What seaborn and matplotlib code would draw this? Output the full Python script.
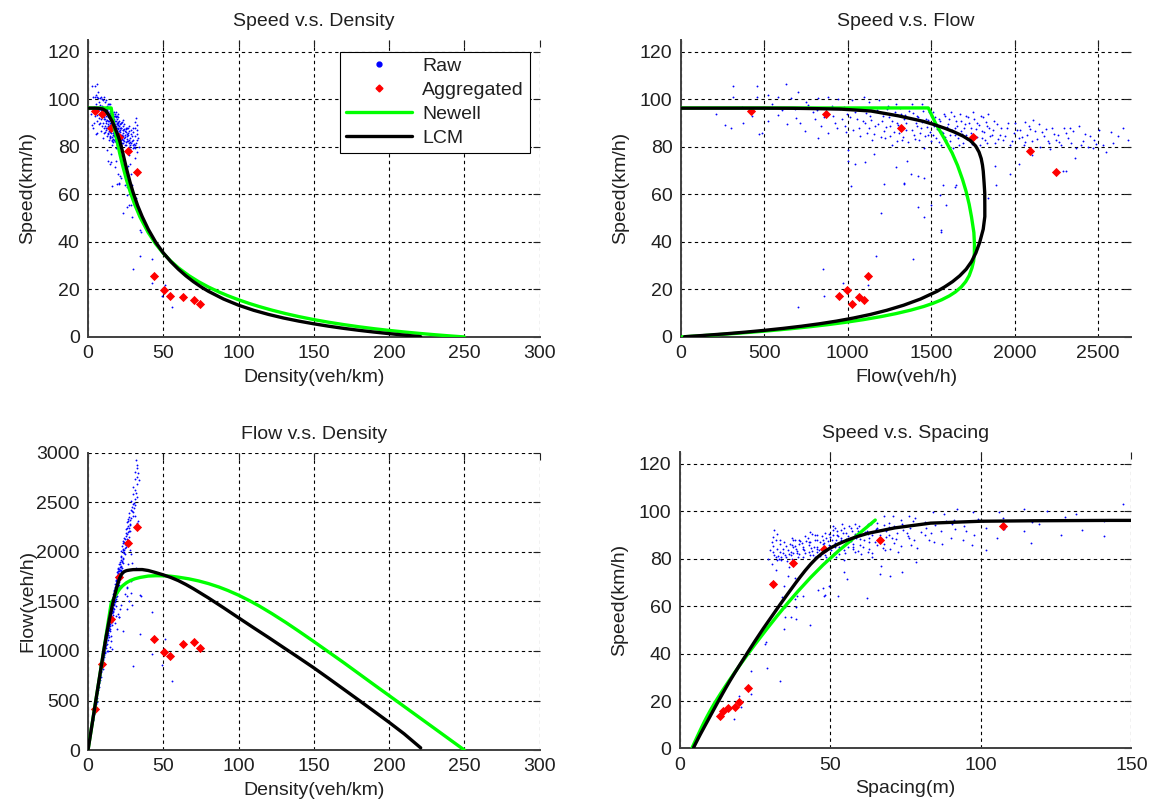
"""
Fundamental diagram comparison: raw detector data, aggregated points,
Newell and LCM model curves, shown in four planes.
"""

import numpy as np
import matplotlib
matplotlib.use("Agg")
import matplotlib.pyplot as plt
from matplotlib.lines import Line2D
import seaborn as sns

# ---- raw observations (flow veh/h, speed km/h) ----
raw_flow = [
    212, 263, 301, 311, 311, 368, 372, 428, 455, 459, 469, 489,
    523, 523, 580, 580, 632, 636, 661, 701, 681, 711, 741, 762, 792, 802, 822, 822,
    842, 883, 883, 913, 923, 943, 953, 964, 984, 994, 1000, 1004,
    1024, 1044, 1054, 1065, 1085, 1095, 1105, 1115, 1125, 1135, 1145, 1155, 1166,
    1186, 1196, 1206, 1216, 1226, 1236, 1246, 1256, 1267, 1287, 1297, 1307, 1317,
    1327, 1337, 1347, 1357, 1368, 1378, 1388, 1398, 1408, 1418, 1428, 1438, 1448,
    1458, 1469, 1479, 1489, 1499,
    1509, 1519, 1529, 1549, 1559, 1570, 1580, 1590, 1600, 1610, 1620, 1630, 1640,
    1650, 1660, 1671, 1681, 1691, 1701, 1711, 1721, 1731, 1741, 1751, 1761, 1772,
    1792, 1802, 1812, 1822, 1832, 1842, 1852, 1873, 1883, 1893, 1913, 1933, 1953,
    1974, 1994, 2004,
    2024, 2034, 2054, 2075, 2085, 2105, 2125, 2145, 2155, 2176, 2206, 2226, 2246,
    2277, 2307, 2337, 2367, 2388, 2408, 2438, 2479, 2509,
    2060, 2190, 2260, 2330, 2420, 2470, 2215, 2110,
    2529, 2549, 2620, 2681, 2721, 2580, 2650, 2760, 2795, 2850, 2930, 2590,
    1044, 1105, 1287, 1570, 1650, 2024, 1974, 2105, 2307, 1339, 1420, 1500, 1460,
    1560, 1389, 1640, 1711, 1841, 1881, 1550, 1590, 1460, 850, 1170, 700, 860,
    1120, 970, 1200, 1020, 1220, 1340, 1420, 2290, 2360, 1890, 1556,
    1012, 1031, 1058, 1072, 1090, 1112, 1128, 1141, 1159, 1173,
    1182, 1201, 1213, 1229, 1241, 1252, 1263, 1275, 1284, 1293,
    1304, 1313, 1322, 1333, 1344, 1352, 1364, 1373, 1383, 1393,
    1403, 1413, 1423, 1433, 1443, 1453, 1463, 1473, 1483, 1493,
    1504, 1514, 1524, 1534, 1544, 1554, 1564, 1575, 1585, 1595,
    1605, 1615, 1625, 1635, 1645, 1655, 1665, 1676, 1686, 1696,
    1706, 1716, 1726, 1736, 1746, 1756, 1767, 1777, 1787, 1797,
    1807, 1817, 1827, 1837, 1847, 1862, 1878, 1898, 1918, 1943, 1963, 1984,
    2014, 2044, 2065, 2095, 2135, 2165, 2198, 2236, 2268, 2297, 2318, 2350, 2398, 2455, 2490,
    545, 605, 690, 752, 815, 860, 905, 935, 975, 990,
    2810, 2880, 2740,
]
raw_speed = [
    93.6, 89.1, 88.0, 105.4, 101.0, 96.7, 90.1, 93.0, 105.4, 101.0, 85.4, 85.8,
    101.7, 90.9, 101.0, 93.3, 106.5, 89.7, 100.3, 103.2, 95.9, 90.1, 86.5, 97.4, 94.5, 91.6, 100.3, 83.6,
    88.7, 101.0, 85.8, 93.0, 90.1, 99.9, 95.9, 91.6, 88.7, 93.8, 78.6, 74.2,
    99.6, 94.5, 91.6, 88.0, 95.9, 101.0, 90.1, 85.8, 98.8, 93.0, 82.9, 77.1, 88.7,
    99.6, 94.5, 90.9, 86.5, 83.6, 95.9, 92.3, 88.7, 80.7, 98.1, 90.1, 85.8, 93.8,
    82.9, 91.6, 87.2, 74.2, 95.2, 68.4, 98.1, 85.1, 90.1, 93.0, 82.9, 88.0, 98.1,
    79.3, 91.6, 85.1, 94.5, 82.2,
    94.5, 88.7, 83.6, 91.6, 80.7, 85.8, 93.0, 82.9, 89.4, 85.1, 94.5, 79.3, 88.0,
    90.9, 83.6, 93.8, 86.5, 81.4, 89.4, 85.1, 92.3, 82.2, 88.0, 94.5, 84.3, 90.1,
    80.7, 86.5, 92.3, 82.9, 88.7, 93.8, 84.3, 87.2, 81.4, 89.4, 85.1, 82.9, 88.0,
    80.7, 85.8, 90.1,
    83.6, 87.2, 80.7, 85.1, 88.7, 82.2, 86.5, 89.4, 80.0, 84.3, 81.4, 88.0, 82.9,
    80.7, 85.8, 81.4, 79.3, 88.7, 82.2, 80.0, 82.9, 87.2,
    90.5, 87.5, 84.8, 87.9, 85.5, 79.5, 78.9, 91.4,
    80.7, 77.8, 84.3, 82.9, 80.0, 86.0, 88.0, 85.5, 83.7, 87.0, 92.0, 81.5,
    72.8, 73.5, 71.3, 64.1, 64.1, 72.8, 68.4, 76.4, 69.9, 64.6, 54.7, 55.4, 50.5,
    44.8, 32.8, 63.0, 59.7, 58.3, 71.7, 59.7, 55.4, 66.8, 28.4, 34.1, 12.5, 17.4,
    22.0, 22.8, 52.0, 63.3, 64.3, 64.3, 67.6, 69.7, 75.4, 64.0, 44.0,
    92.4, 87.1, 96.2, 84.6, 90.8, 94.1, 87.9, 91.3, 85.2, 95.4,
    89.6, 83.9, 92.8, 88.2, 97.0, 84.7, 91.0, 86.3, 94.7, 82.6,
    89.3, 96.4, 87.6, 84.0, 93.2, 89.8, 81.9, 91.9, 87.0, 94.3,
    83.2, 88.9, 92.7, 85.6, 90.4, 95.0, 84.3, 88.1, 91.2, 86.0,
    89.9, 84.8, 92.6, 87.4, 81.8, 90.6, 86.1, 93.9, 84.0, 88.3,
    91.8, 82.5, 86.9, 92.9, 84.9, 88.6, 80.9, 90.7, 85.4, 87.9,
    93.1, 83.1, 89.9, 85.9, 81.2, 91.5, 87.3, 84.1, 89.0, 92.8,
    83.7, 86.2, 90.5, 81.6, 88.0, 85.0, 90.9, 83.2, 87.7, 84.5, 89.8, 82.4,
    86.9, 84.0, 81.9, 87.6, 83.3, 86.0, 82.6, 85.3, 82.0, 87.9, 83.5, 86.4, 80.6, 84.3, 81.0,
    97.8, 95.3, 92.2, 98.9, 95.4, 92.6, 97.1, 88.0, 96.6, 86.3,
    90.5, 89.3, 87.8,
]

# ---- aggregated points (density veh/km, speed km/h) ----
agg_density = [4.4, 9.3, 15.0, 20.8, 26.7, 32.4, 43.8, 50.4, 54.6, 62.9, 70.2, 74.5]
agg_speed = [95.0, 93.7, 88.0, 84.2, 78.3, 69.4, 25.6, 19.7, 17.4, 17.0, 15.6, 13.8]

# ---- Newell model curve (density, speed) ----
newell_density = [0, 15.4, 17, 19, 21, 23, 25.5, 28, 31, 34.6, 40, 45, 50, 55, 60, 67,
                  73.5, 80, 87, 93, 100, 107, 113.6, 122, 131.4, 140, 150, 160, 170,
                  180, 190, 200, 210, 220, 230, 240, 250]
newell_speed = [96.3, 96.3, 89.8, 83.2, 77.4, 72.1, 66.2, 61.07, 55.74, 50.35, 43.9, 39.1,
                35.18, 31.9, 29.08, 25.79, 23.22, 21.0, 18.91, 17.31, 15.63, 14.11, 12.81,
                11.3, 9.8, 8.57, 7.3, 6.175, 5.18, 4.278, 3.47, 2.75, 2.095, 1.5, 0.957,
                0.458, 0.0]

# ---- LCM model curve (density, speed) ----
lcm_density = [0, 5, 7, 8.5, 10, 12, 14, 16, 17, 18, 19, 20, 21, 22, 23, 24, 25, 26, 28,
               30, 33, 36, 40, 45, 50, 55, 60, 65, 70, 75, 80, 90, 100, 110, 120, 130,
               140, 150, 160, 170, 180, 190, 200, 210, 221]
lcm_speed = [96.2, 96.2, 96.15, 96.0, 95.8, 95.0, 93.0, 90.7, 89.3, 87.8, 86.2, 84.5, 82.6,
             80.3, 77.7, 75.0, 72.3, 69.7, 64.9, 60.7, 55.2, 50.6, 45.3, 39.8, 35.36, 31.67,
             28.5, 25.71, 23.26, 21.09, 19.19, 15.96, 13.35, 11.22, 9.46, 7.95, 6.66, 5.53,
             4.51, 3.6, 2.79, 2.06, 1.40, 0.78, 0.1]

RAW_COLOR = "#0000FF"
AGG_COLOR = "#FF0000"
NEWELL_COLOR = "#00FF00"
LCM_COLOR = "#000000"
TEXT_COLOR = "#202020"
FONT_SIZE = 14

sns.set_style("white")
plt.rcParams["font.family"] = ["Liberation Sans", "DejaVu Sans"]


def style_axes(ax, xlim, ylim, xticks, yticks, title, xlabel, ylabel):
    ax.set_xlim(*xlim)
    ax.set_ylim(*ylim)
    ax.set_xticks(xticks)
    ax.set_yticks(yticks)
    ax.set_title(title, fontsize=FONT_SIZE, color=TEXT_COLOR, pad=10)
    ax.set_xlabel(xlabel, fontsize=FONT_SIZE, color=TEXT_COLOR)
    ax.set_ylabel(ylabel, fontsize=FONT_SIZE, color=TEXT_COLOR)
    ax.xaxis.set_label_coords(0.5, -0.108)
    ax.yaxis.set_label_coords(-0.115, 0.5)
    ax.grid(True, linestyle=(0, (3, 3)), color="black", linewidth=0.8)
    ax.set_axisbelow(True)
    ax.tick_params(direction="in", top=True, right=True, length=5, width=0.8,
                   labelsize=FONT_SIZE, colors=TEXT_COLOR, pad=6)
    for side in ("top", "right"):
        ax.spines[side].set_visible(False)
    for side in ("left", "bottom"):
        ax.spines[side].set_color("#404040")
        ax.spines[side].set_linewidth(1.4)


def draw_panel(ax, raw_x, raw_y, agg_x, agg_y, newell_x, newell_y, lcm_x, lcm_y):
    sns.scatterplot(x=raw_x, y=raw_y, ax=ax, color=RAW_COLOR, s=1.8, linewidth=0,
                    marker="o", zorder=2, legend=False)
    sns.scatterplot(x=agg_x, y=agg_y, ax=ax, color=AGG_COLOR, s=22, linewidth=0,
                    marker="D", zorder=3, legend=False)
    sns.lineplot(x=newell_x, y=newell_y, ax=ax, color=NEWELL_COLOR, linewidth=2.4,
                 sort=False, estimator=None, zorder=4)
    sns.lineplot(x=lcm_x, y=lcm_y, ax=ax, color=LCM_COLOR, linewidth=2.4,
                 sort=False, estimator=None, zorder=5)


if __name__ == "__main__":
    rf = np.array(raw_flow, dtype=float)
    rs = np.array(raw_speed, dtype=float)
    rd = rf / rs
    rsp = 1000.0 / rd

    ad = np.array(agg_density)
    asp_ = np.array(agg_speed)
    af = ad * asp_

    nd = np.array(newell_density)
    ns = np.array(newell_speed)
    nf = nd * ns
    nmask = nd >= 15.4  # Newell is only drawn in the spacing plane below free-flow spacing

    ld = np.array(lcm_density)
    ls = np.array(lcm_speed)
    lf = ld * ls
    lmask = ld > 0

    fig = plt.figure(figsize=(11.58, 8.10), dpi=100)
    ax_sd = fig.add_axes([0.076, 0.584, 0.390, 0.367])
    ax_sf = fig.add_axes([0.588, 0.584, 0.389, 0.367])
    ax_fd = fig.add_axes([0.076, 0.074, 0.390, 0.367])
    ax_ss = fig.add_axes([0.587, 0.076, 0.390, 0.366])

    # Speed v.s. Density
    draw_panel(ax_sd, rd, rs, ad, asp_, nd, ns, ld, ls)
    style_axes(ax_sd, (0, 300), (0, 125), range(0, 301, 50), range(0, 121, 20),
               "Speed v.s. Density", "Density(veh/km)", "Speed(km/h)")
    handles = [
        Line2D([], [], linestyle="none", marker="o", markersize=3.5, color=RAW_COLOR),
        Line2D([], [], linestyle="none", marker="D", markersize=3.5, color=AGG_COLOR),
        Line2D([], [], color=NEWELL_COLOR, linewidth=2.4),
        Line2D([], [], color=LCM_COLOR, linewidth=2.4),
    ]
    leg = ax_sd.legend(handles, ["Raw", "Aggregated", "Newell", "LCM"],
                       loc="upper right", bbox_to_anchor=(0.978, 0.960),
                       fontsize=FONT_SIZE, frameon=True, fancybox=False,
                       handlelength=3.4, labelspacing=0.33, borderpad=0.3,
                       handletextpad=0.5, borderaxespad=0)
    leg.get_frame().set_edgecolor("black")
    leg.get_frame().set_linewidth(0.8)
    leg.get_frame().set_alpha(1)
    for txt in leg.get_texts():
        txt.set_color(TEXT_COLOR)

    # Speed v.s. Flow
    draw_panel(ax_sf, rf, rs, af, asp_, nf, ns, lf, ls)
    style_axes(ax_sf, (0, 2700), (0, 125), range(0, 2501, 500), range(0, 121, 20),
               "Speed v.s. Flow", "Flow(veh/h)", "Speed(km/h)")

    # Flow v.s. Density
    draw_panel(ax_fd, rd, rf, ad, af, nd, nf, ld, lf)
    style_axes(ax_fd, (0, 300), (0, 3000), range(0, 301, 50), range(0, 3001, 500),
               "Flow v.s. Density", "Density(veh/km)", "Flow(veh/h)")

    # Speed v.s. Spacing
    draw_panel(ax_ss, rsp, rs, 1000.0 / ad, asp_,
               1000.0 / nd[nmask], ns[nmask], 1000.0 / ld[lmask], ls[lmask])
    style_axes(ax_ss, (0, 150), (0, 125), range(0, 151, 50), range(0, 121, 20),
               "Speed v.s. Spacing", "Spacing(m)", "Speed(km/h)")

    fig.savefig("out.png", dpi=100, facecolor="white")
    plt.close(fig)
